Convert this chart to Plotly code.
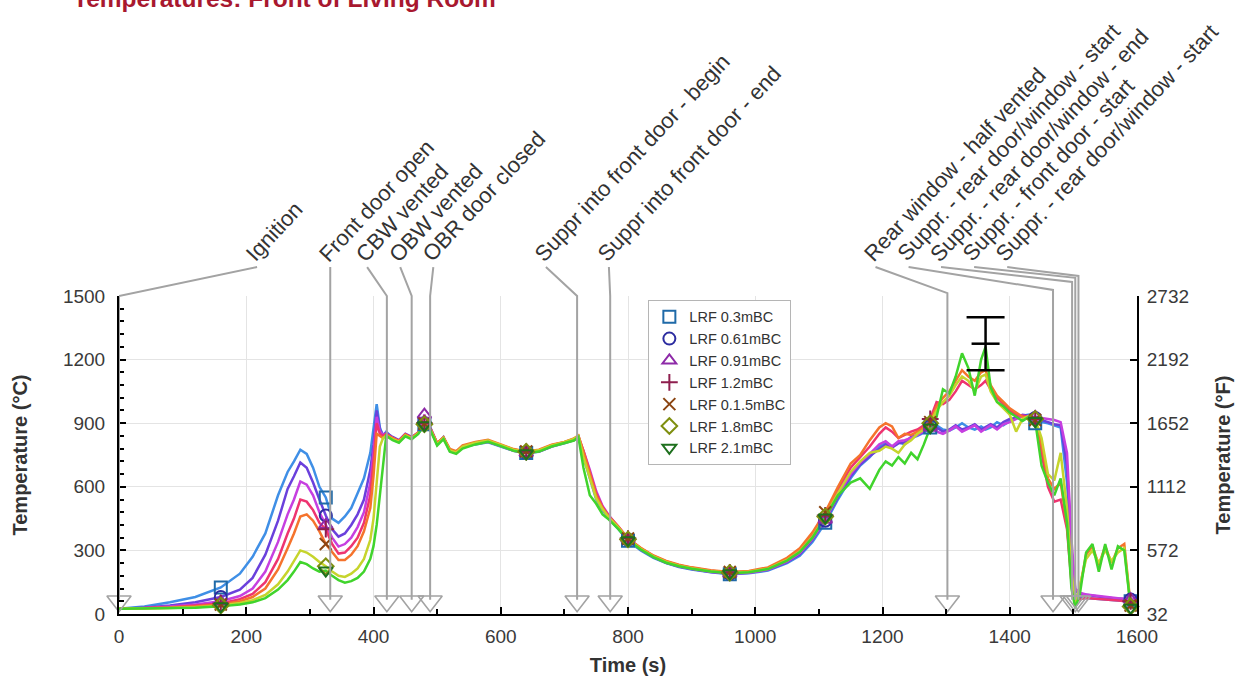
import plotly.graph_objects as go

# ---------------- data ----------------
time_s = [0, 40, 80, 120, 160, 190, 210, 230, 250, 265, 275, 285, 295, 305, 315, 325, 335, 345, 355, 365,
          375, 385, 395, 400, 405, 410, 415, 420, 430, 440, 450, 460, 470, 480, 490, 500, 510, 520, 530, 540,
          560, 580, 600, 620, 640, 660, 680, 700, 715, 722, 730, 740, 750, 760, 770, 785, 800, 820, 840, 860,
          880, 900, 930, 960, 990, 1020, 1050, 1070, 1090, 1110, 1130, 1150, 1165, 1180, 1195, 1205, 1215, 1225, 1235, 1245,
          1255, 1265, 1275, 1285, 1295, 1305, 1315, 1325, 1335, 1345, 1355, 1362, 1370, 1380, 1390, 1400, 1410, 1420, 1430, 1440,
          1450, 1460, 1470, 1480, 1490, 1497, 1503, 1510, 1520, 1530, 1540, 1550, 1560, 1570, 1580, 1590, 1600]

lrf_0_3 = [25, 35, 55, 80, 125, 190, 270, 380, 560, 670, 720, 775, 755, 690, 600, 550, 450, 430, 460, 500,
           570, 640, 760, 880, 990, 880, 840, 860, 830, 815, 845, 830, 850, 895, 870, 800, 835, 770, 760, 785,
           800, 810, 790, 770, 760, 765, 790, 805, 820, 840, 740, 640, 540, 490, 450, 400, 345, 300, 265, 240,
           222, 210, 197, 188, 192, 205, 240, 275, 340, 430, 540, 640, 700, 740, 790, 810, 790, 810, 800, 830,
           840, 855, 880, 890, 870, 865, 880, 900, 880, 870, 885, 870, 880, 905, 890, 910, 930, 935, 940, 900,
           905, 900, 890, 880, 620, 280, 90, 80, 75, 72, 70, 68, 66, 64, 62, 60, 58]

lrf_0_61 = [25, 30, 40, 55, 80, 115, 170, 280, 440, 590, 650, 715, 690, 620, 540, 465, 400, 365, 380, 420,
            470, 540, 680, 800, 960, 870, 845, 855, 835, 820, 850, 835, 855, 900, 875, 805, 830, 775, 765, 790,
            805, 815, 795, 772, 762, 768, 792, 808, 822, 835, 760, 660, 560, 500, 460, 405, 350, 303, 268, 242,
            224, 212, 198, 190, 194, 208, 245, 282, 350, 440, 550, 650, 705, 745, 780, 800, 785, 805, 810, 835,
            845, 860, 890, 880, 860, 870, 890, 870, 880, 895, 870, 880, 895, 880, 905, 920, 925, 940, 935, 925,
            915, 905, 895, 890, 700, 300, 110, 95, 90, 86, 82, 78, 75, 72, 70, 68, 80]

lrf_0_91 = [25, 28, 35, 45, 60, 85, 120, 200, 340, 470, 540, 625, 610, 560, 480, 420, 360, 318, 330, 360,
            410, 480, 620, 760, 930, 860, 845, 850, 830, 815, 845, 830, 855, 940, 870, 800, 830, 770, 762, 788,
            802, 812, 792, 770, 760, 766, 790, 806, 820, 830, 770, 680, 580, 510, 465, 410, 355, 305, 270, 243,
            225, 213, 199, 191, 195, 210, 248, 288, 355, 445, 560, 660, 715, 755, 800, 815, 790, 815, 820, 830,
            845, 865, 880, 860, 850, 865, 885, 860, 875, 890, 860, 875, 890, 870, 895, 905, 920, 935, 930, 930,
            925, 920, 915, 905, 760, 350, 120, 100, 92, 88, 84, 80, 77, 74, 72, 70, 70]

lrf_1_2 = [25, 27, 32, 40, 50, 70, 95, 150, 260, 380, 450, 540, 530, 490, 430, 400, 330, 285, 290, 320,
           360, 430, 560, 720, 900, 850, 840, 850, 830, 818, 848, 832, 856, 900, 872, 805, 832, 775, 765, 792,
           808, 818, 798, 776, 765, 772, 796, 810, 826, 840, 770, 670, 570, 505, 462, 412, 356, 310, 274, 248,
           230, 218, 204, 196, 200, 216, 258, 300, 372, 465, 585, 690, 740, 790, 850, 880, 860, 830, 845, 860,
           870, 890, 920, 1000, 990, 1010, 1050, 1100, 1080, 1060, 1080, 1100, 1060, 1020, 990, 960, 940, 935, 930, 920,
           760, 600, 530, 540, 400, 150, 60, 70, 75, 72, 70, 68, 66, 64, 62, 60, 55]

lrf_1_5 = [25, 27, 30, 36, 45, 60, 80, 120, 210, 310, 380, 460, 470, 440, 390, 330, 290, 255, 255, 280,
           320, 390, 500, 650, 850, 840, 830, 845, 828, 815, 846, 830, 855, 898, 870, 806, 834, 778, 768, 795,
           812, 822, 800, 778, 767, 775, 798, 812, 828, 842, 765, 660, 560, 500, 458, 410, 356, 312, 276, 250,
           232, 220, 206, 198, 203, 220, 265, 310, 385, 480, 600, 710, 750, 820, 880, 900, 885, 830, 850, 845,
           860, 880, 905, 980, 1020, 1050, 1100, 1150, 1120, 1100, 1140, 1150, 1080, 1030, 1000, 970, 950, 930, 925, 915,
           800, 640, 590, 620, 420, 170, 40, 120, 280, 320, 230, 320, 240, 310, 330, 40, 45]

lrf_1_8 = [25, 26, 28, 32, 40, 52, 65, 90, 140, 200, 250, 300, 290, 270, 245, 225, 200, 180, 175, 190,
           215, 260, 350, 450, 620, 790, 830, 840, 825, 812, 842, 828, 852, 895, 866, 800, 830, 772, 762, 790,
           808, 818, 798, 775, 765, 772, 795, 810, 826, 840, 740, 640, 545, 495, 455, 408, 352, 308, 272, 246,
           228, 216, 202, 194, 199, 214, 255, 296, 365, 460, 570, 670, 720, 760, 770, 790, 780, 760, 800, 820,
           850, 870, 900, 960, 1000, 1030, 1080, 1120, 1100, 1050, 1120, 1130, 1050, 1000, 970, 940, 860, 920, 935, 920,
           830, 660, 630, 760, 500, 200, 50, 130, 260, 300, 240, 300, 250, 290, 310, 35, 40]

lrf_2_1 = [25, 26, 27, 30, 36, 45, 55, 75, 115, 160, 200, 245, 235, 215, 200, 205, 180, 160, 148, 155,
           170, 200, 260, 320, 420, 560, 700, 840, 820, 808, 838, 824, 848, 890, 862, 795, 825, 765, 755, 780,
           800, 812, 792, 770, 758, 766, 790, 804, 818, 835, 690, 560, 520, 470, 445, 400, 348, 304, 268, 242,
           225, 213, 200, 192, 197, 212, 252, 292, 360, 455, 560, 620, 640, 590, 680, 720, 700, 740, 710, 760,
           730, 800, 880, 930, 1060, 1040, 1120, 1230, 1160, 1030, 1200, 1260, 1070, 1000, 980, 950, 930, 910, 930, 910,
           700, 620, 560, 640, 430, 120, 30, 90, 290, 330, 200, 330, 210, 320, 300, 30, 40]

series_names = ["LRF 0.3mBC", "LRF 0.61mBC", "LRF 0.91mBC", "LRF 1.2mBC",
                "LRF 0.1.5mBC", "LRF 1.8mBC", "LRF 2.1mBC"]
series_values = [lrf_0_3, lrf_0_61, lrf_0_91, lrf_1_2, lrf_1_5, lrf_1_8, lrf_2_1]

marker_times = [160, 325, 480, 640, 800, 960, 1110, 1275, 1440, 1590]

event_times = [0, 332, 421, 460, 489, 720, 772, 1302, 1468, 1498, 1503, 1508]
event_labels = ["Ignition", "Front door open", "CBW vented", "OBW vented", "OBR door closed",
                "Suppr into front door - begin", "Suppr into front door - end",
                "Rear window - half vented", "Suppr. - rear door/window - start",
                "Suppr. - rear door/window - end", "Suppr. - front door - start",
                "Suppr. - rear door/window - start"]

err_time = [1362]
err_value = [1275]
err_half = [125]

c_ticks = [0, 300, 600, 900, 1200, 1500]
f_ticks = [32, 572, 1112, 1652, 2192, 2732]

# ---------------- styles ----------------
FONT = "Liberation Sans, Arial, sans-serif"
line_colors = ["#3f8fe6", "#6a40dc", "#c63fe0", "#ee3470", "#f5732c", "#c6d42c", "#40d42c"]
marker_colors = ["#1f6aa8", "#2c2ca0", "#8e2aa8", "#8e1e4e", "#8b4512", "#7f8f10", "#1e701e"]
marker_symbols = ["square-open", "circle-open", "triangle-up-open", "cross-thin-open",
                  "x-thin-open", "diamond-open", "triangle-down-open"]
label_times = [217, 332, 390, 442, 494, 671, 770, 1189, 1241, 1292, 1344, 1396]
bend_levels = [1.0, 1.0, 1.0, 1.0, 1.0, 1.0, 1.0, 1.009, 1.019, 1.044, 1.057, 1.063]
LABEL_Y = 1.091
EVENT_GREY = "#a3a3a3"

fig = go.Figure()

for name, vals, lc in zip(series_names, series_values, line_colors):
    fig.add_trace(go.Scatter(x=time_s, y=vals, mode="lines", name=name, showlegend=False,
                             line=dict(color=lc, width=2.5), hoverinfo="skip"))

marker_idx = [time_s.index(t) for t in marker_times]
for name, vals, mc, sym in zip(series_names, series_values, marker_colors, marker_symbols):
    fig.add_trace(go.Scatter(x=[time_s[i] for i in marker_idx], y=[vals[i] for i in marker_idx],
                             mode="markers", name=name, cliponaxis=False,
                             marker=dict(symbol=sym, size=12, color=mc,
                                         line=dict(color=mc, width=2))))

# error bar
fig.add_trace(go.Scatter(x=err_time, y=err_value, mode="markers", showlegend=False,
                         marker=dict(symbol="line-ew-open", size=20, color="black",
                                     line=dict(color="black", width=2.5)),
                         error_y=dict(type="data", array=err_half, visible=True,
                                      color="black", thickness=2.5, width=19)))

# event triangles
fig.add_trace(go.Scatter(x=event_times, y=[60] * len(event_times), mode="markers", showlegend=False,
                         cliponaxis=False, hoverinfo="skip",
                         marker=dict(symbol="triangle-down-open", size=21, color=EVENT_GREY,
                                     line=dict(color=EVENT_GREY, width=1.6))))

# invisible trace for the °F axis
fig.add_trace(go.Scatter(x=[0], y=[32], yaxis="y2", mode="markers", showlegend=False,
                         hoverinfo="skip", marker=dict(opacity=0)))

shapes = []
annotations = []
for et, lt, bl, lab in zip(event_times, label_times, bend_levels, event_labels):
    shapes.append(dict(type="path", xref="x", yref="paper",
                       path=f"M {lt},{LABEL_Y} L {et},{bl} L {et},0.045",
                       line=dict(color=EVENT_GREY, width=2), layer="above"))
    annotations.append(dict(x=lt, y=LABEL_Y, xref="x", yref="paper", text=lab, showarrow=False,
                            textangle=-47, xanchor="left", yanchor="bottom", xshift=-19, yshift=-2,
                            font=dict(family=FONT, size=22, color="#333333")))

annotations.append(dict(x=-0.047, y=1.934, xref="paper", yref="paper",
                        text="<b>Temperatures: Front of Living Room</b>", showarrow=False,
                        xanchor="left", yanchor="middle",
                        font=dict(family=FONT, size=24.5, color="#a8182f")))

axis_title_font = dict(family=FONT, size=20, color="#333333")
tick_font = dict(family=FONT, size=19, color="#3a3a3a")

fig.update_layout(
    width=1249, height=681, autosize=False,
    margin=dict(l=119, r=112, t=296, b=67),
    paper_bgcolor="white", plot_bgcolor="white",
    font=dict(family=FONT, size=19, color="#333333"),
    shapes=shapes, annotations=annotations,
    legend=dict(x=0.52, y=0.988, xanchor="left", yanchor="top", bgcolor="white",
                bordercolor="#b5b5b5", borderwidth=1, font=dict(family=FONT, size=14.5, color="#333333"),
                tracegroupgap=0),
    xaxis=dict(range=[0, 1600], tickvals=[0, 200, 400, 600, 800, 1000, 1200, 1400, 1600],
               ticks="inside", ticklen=7, tickwidth=2, tickcolor="black",
               showline=True, linecolor="black", linewidth=2, automargin=False,
               showgrid=True, gridcolor="#e4e4e4", gridwidth=1, zeroline=False,
               minor=dict(dtick=100, tick0=0, ticks="inside", ticklen=5, tickcolor="black", showgrid=False),
               title=dict(text="<b>Time (s)</b>", font=axis_title_font, standoff=12),
               ticklabelstandoff=4, tickfont=tick_font),
    yaxis=dict(range=[0, 1500], tickvals=c_ticks,
               ticks="inside", ticklen=7, tickwidth=2, tickcolor="black",
               showline=True, linecolor="black", linewidth=2, automargin=False,
               showgrid=True, gridcolor="#e4e4e4", gridwidth=1, zeroline=False,
               minor=dict(dtick=60, tick0=0, ticks="inside", ticklen=5, tickcolor="black", showgrid=False),
               title=dict(text="<b>Temperature (°C)</b>", font=axis_title_font, standoff=30),
               ticklabelstandoff=8, tickfont=tick_font),
    yaxis2=dict(range=[32, 2732], tickvals=f_ticks, overlaying="y", side="right",
                ticks="inside", ticklen=7, tickwidth=2, tickcolor="black",
                showline=True, linecolor="black", linewidth=2, showgrid=False, zeroline=False,
                automargin=False,
                title=dict(text="<b>Temperature (°F)</b>", font=axis_title_font, standoff=28),
                ticklabelstandoff=4, tickfont=tick_font),
)

fig.write_html("out.html")
